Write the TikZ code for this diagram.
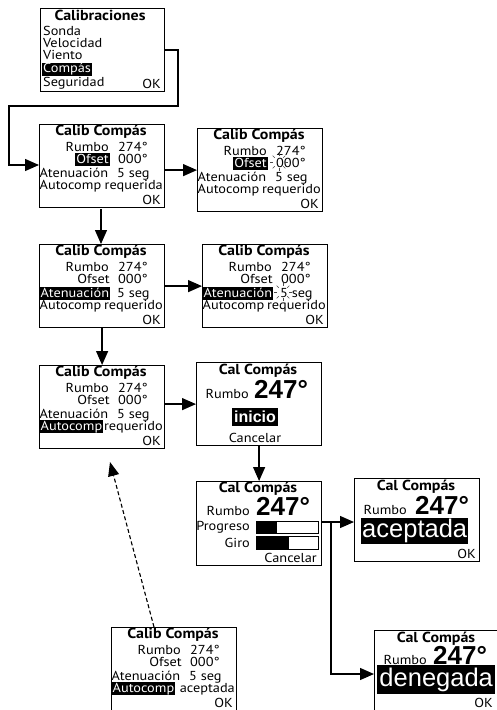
\documentclass[tikz,border=0pt]{standalone}
\usepackage{fontspec}
\setmainfont[FakeStretch=1.1]{PT Sans}
\newfontfamily\bigf{Liberation Sans}
\usetikzlibrary{arrows.meta,calc}
\tikzset{
  screen/.style={draw=black,line width=1.2pt,fill=white,minimum width=125pt,minimum height=83pt,inner sep=0pt,anchor=north west},
  conn/.style={line width=1.3pt,-{Triangle[length=14pt,width=12pt]}},
  dashconn/.style={line width=1.1pt,dash pattern=on 4pt off 2.5pt,-{Triangle[length=14pt,width=11pt]}},
  txt/.style={inner ysep=0pt,inner xsep=0pt,font=\fontsize{13}{13}\selectfont,text=black},
  ttl/.style={txt,font=\fontsize{14.5}{13}\selectfont\bfseries,anchor=base},
  hl/.style={fill=black,text=white,text height=10pt,text depth=3pt,inner xsep=1pt},
  big/.style={inner sep=0pt,anchor=base west,font=\bigf\bfseries\fontsize{26}{26}\selectfont},
  inv/.style={fill=black,text=white,inner sep=0pt,minimum height=26pt,font=\bigf\fontsize{25.5}{26}\selectfont},
  ray/.style={line width=.5pt,black!70},
}
\newcommand{\sunrays}[2]{%
  \foreach \a in {0,45,...,315}{\draw[ray] ($(#1,#2)+(\a:6)$) -- ($(#1,#2)+(\a:9)$);}}
% name, x, y, ofset style, atenuacion style, autocomp style, word, extra
\newcommand{\calib}[8]{%
\begin{scope}[shift={(#2,#3)}]
  \node[screen] (#1) at (0,0) {};
  \node[ttl] (#1t) at (62,11) {Calib Compás};
  \node[txt,anchor=base east] (#1r) at (70,27) {Rumbo};
  \node[txt,anchor=base west] (#1rv) at (79,27) {274°};
  \node[txt,anchor=base east,#4] (#1o) at (71,39) {Ofset};
  \node[txt,anchor=base west] (#1ov) at (79,39) {000°};
  \node[txt,anchor=base west,#5] (#1a) at (0.5,53) {Atenuación};
  \node[txt,anchor=base west] (#1av) at (78,53) {5 seg};
  \node[txt,anchor=base west,#6] (#1c) at (0.5,65) {Autocomp};
  \node[txt,anchor=base east] (#1w) at (124,65) {#7};
  \node[txt,anchor=base east] (#1k) at (122,80) {OK};
  #8
\end{scope}}
\begin{document}
\begin{tikzpicture}[x=1pt,y=-1pt]
\useasboundingbox (0,0) rectangle (496,710);
% Calibraciones
\begin{scope}[shift={(40,8)}]
  \node[screen,minimum width=124pt] (A) at (0,0) {};
  \node[ttl] (At) at (60,12) {Calibraciones};
  \node[txt,anchor=base west] (A1) at (3,27) {Sonda};
  \node[txt,anchor=base west] (A2) at (3,39.5) {Velocidad};
  \node[txt,anchor=base west] (A3) at (3,51.5) {Viento};
  \node[txt,anchor=base west,hl] (A4) at (2,64.5) {Compás};
  \node[txt,anchor=base west] (A5) at (3,78) {Seguridad};
  \node[txt,anchor=base east] (A6) at (121,80) {OK};
\end{scope}
\calib{B}{39}{124}{hl}{}{}{requerida}{}
\calib{C}{197}{128}{hl}{}{}{requerido}{\sunrays{82}{34}}
\calib{D}{39}{244}{}{hl}{}{requerido}{}
\calib{E}{202}{244}{}{hl}{}{requerido}{\sunrays{81}{48}}
\calib{F}{39}{365}{}{}{hl}{requerido}{}
\calib{K}{111}{627}{}{}{hl}{aceptada}{}
% inicio screen
\begin{scope}[shift={(196,362)}]
  \node[screen] (G) at (0,0) {};
  \node[ttl] (Gt) at (62,12) {Cal Compás};
  \node[txt,anchor=base east] (Gr) at (53,36) {Rumbo};
  \node[big] (Gb) at (58,36) {247°};
  \node[fill=black,text=white,inner xsep=2pt,inner ysep=1pt,minimum width=46pt,minimum height=18pt,font=\bigf\bfseries\fontsize{16}{16}\selectfont] (Gi) at (59,55) {inicio};
  \node[txt,anchor=base] (Gc) at (59,80) {Cancelar};
\end{scope}
% progress screen
\begin{scope}[shift={(196,481)}]
  \node[screen,minimum height=84pt] (H) at (0,0) {};
  \node[ttl] (Ht) at (62,11) {Cal Compás};
  \node[txt,anchor=base east] (Hr) at (54,34) {Rumbo};
  \node[big] (Hb) at (60,34) {247°};
  \node[txt,anchor=base east] (Hp) at (54,49) {Progreso};
  \node[txt,anchor=base east] (Hg) at (54,66) {Giro};
  \node[txt,anchor=base east] (Hc) at (121,81) {Cancelar};
  \draw[line width=.9pt,fill=white] (60,40) rectangle (122,52);
  \fill (60,40) rectangle (81,52);
  \draw[line width=.9pt,fill=white] (60,55) rectangle (122,68);
  \fill (60,55) rectangle (93,68);
\end{scope}
% aceptada
\begin{scope}[shift={(354,478)}]
  \node[screen] (I) at (0,0) {};
  \node[ttl] (It) at (62,12) {Cal Compás};
  \node[txt,anchor=base east] (Ir) at (53,36) {Rumbo};
  \node[big] (Ib) at (61,36) {247°};
  \node[inv,minimum width=107pt,anchor=north west] (Iv) at (7,40) {aceptada};
  \node[txt,anchor=base east] (Ik) at (122,80) {OK};
\end{scope}
% denegada
\begin{scope}[shift={(374,630)}]
  \node[screen,minimum width=130pt] (J) at (0,0) {};
  \node[ttl] (Jt) at (62,12) {Cal Compás};
  \node[txt,anchor=base east] (Jr) at (53,34) {Rumbo};
  \node[big] (Jb) at (59,34) {247°};
  \node[inv,minimum width=118pt,minimum height=29pt,anchor=north west] (Jv) at (3,35) {denegada};
  \node[txt,anchor=base east] (Jk) at (119,77) {OK};
\end{scope}
% connectors
\coordinate (a1) at (178,50);
\coordinate (a2) at (178,106);
\coordinate (a3) at (9,106);
\coordinate (a4) at (9,165);
\coordinate (bs) at (101,209);
\draw[conn] (A.east |- a1) -- (a1) -- (a2) -- (a3) -- (a4) -- (B.west |- a4);
\draw[conn] (B.east |- C.west) -- (C.west);
\draw[conn] (bs) -- (bs |- D.north);
\draw[conn] (D.east) -- (E.west);
\draw[conn] (D.south) -- (D.south |- F.north);
\draw[conn] (F.east |- G.west) -- (G.west);
\draw[conn] (G.south) -- (G.south |- H.north);
\coordinate (h1) at (331,522);
\coordinate (h2) at (331,674);
\draw[conn] (H.east |- h1) -- (I.west |- h1);
\draw[conn] (h1) -- (h2) -- (J.west |- h2);
\coordinate (k1) at (154,627);
\coordinate (k2) at (110,462);
\draw[dashconn] (k1) -- (k2);
\end{tikzpicture}
\end{document}
